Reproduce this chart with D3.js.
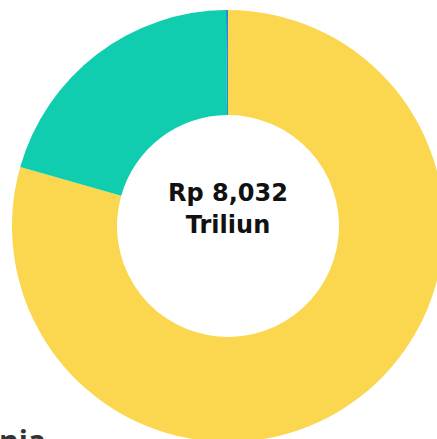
<!DOCTYPE html>
<html>
  <head>
    <meta charset="utf-8">
    <script src="https://d3js.org/d3.v7.min.js"></script>
    <style>
      body { margin: 0; background: white; }
    </style>
  </head>
  <body>
    <div id="chart"></div>
    <script>
      // data (Rp triliun)
      const categories = ['Kuning', 'Hijau', 'Biru']
      const values = [6378, 1642, 12]
      const colors = ['#fbd64f', '#0fcdae', '#1d8fd4']
      const centerLines = ['Rp 8,032', 'Triliun']
      const cutLabel = 'nia'

      const width = 437
      const height = 439
      const cx = 228, cy = 226
      const outerR = 216, innerR = 111

      const svg = d3.select('#chart')
                    .append('svg')
                    .attr('width', width)
                    .attr('height', height)

      const g = svg.append('g')
                   .attr('transform', `translate(${cx}, ${cy})`)

      const pie = d3.pie().sort(null).value((d) => d)
      const arc = d3.arc().innerRadius(innerR).outerRadius(outerR)
      const color = d3.scaleOrdinal().domain(categories).range(colors)

      g.selectAll('path')
        .data(pie(values))
        .join('path')
          .attr('d', arc)
          .attr('fill', (d, i) => color(categories[i]))

      g.selectAll('text.center')
        .data(centerLines)
        .join('text')
          .attr('class', 'center')
          .attr('text-anchor', 'middle')
          .attr('x', 0)
          .attr('y', (d, i) => -25 + i * 32)
          .style('font-family', '"DejaVu Sans", sans-serif')
          .style('font-weight', 'bold')
          .style('font-size', '24px')
          .style('fill', '#111')
          .text((d) => d)

      // partial label cut by the bottom edge
      svg.append('text')
        .attr('x', -1)
        .attr('y', 452)
        .style('font-family', '"Open Sans", "DejaVu Sans", sans-serif')
        .style('font-weight', 'bold')
        .style('font-size', '30px')
        .style('fill', '#333')
        .text(cutLabel)
    </script>
  </body>
</html>
